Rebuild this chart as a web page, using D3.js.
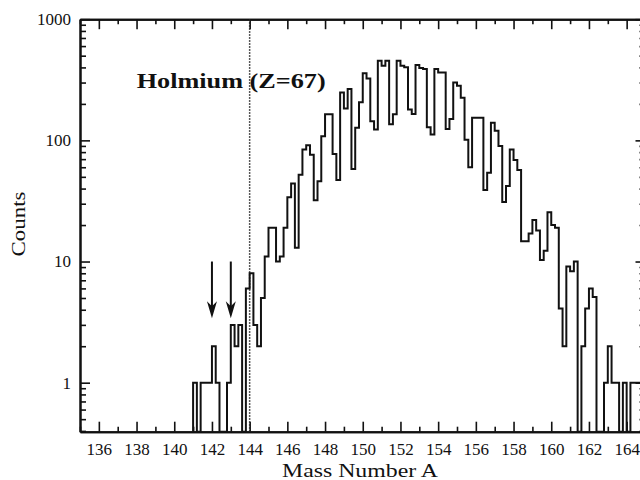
<!DOCTYPE html>
<html><head><meta charset="utf-8">
<script src="https://cdn.jsdelivr.net/npm/d3@7"></script>
<style>
body{margin:0;background:#fff}
svg{display:block}
svg text{font-family:'Liberation Serif',Times,serif !important;fill:#111}
</style>
</head><body>
<svg id="chart" width="640" height="480"></svg>
<script>
// ---- data ----
const binStart = 141.0;      // first bin lower edge (mass number)
const binWidth = 0.2;        // bin width (mass units)
// counts per bin (5 bins per mass unit, 141.0 ... 164.8)
const counts = [
  1, 0, 1, 1, 1,            // 141
  2, 1, 0, 0, 1,            // 142
  3, 2, 3, 0, 6,            // 143
  8, 3, 2, 5, 11,           // 144
  19, 19, 10, 11, 19,       // 145
  34, 44, 13, 52, 84,       // 146
  91, 76, 32, 46, 108,      // 147
  164, 164, 77, 47, 248,    // 148
  183, 265, 58, 127, 206,   // 149
  358, 324, 144, 123, 455,  // 150
  413, 455, 136, 164, 455,  // 151
  413, 401, 180, 165, 419,  // 152
  395, 388, 128, 112, 388,  // 153
  364, 364, 124, 150, 301,  // 154
  282, 225, 101, 60, 154,   // 155
  154, 154, 39, 54, 140,    // 156
  120, 90, 31, 42, 84,      // 157
  69, 57, 14.7, 14.7, 17,   // 158
  22, 18, 10.3, 12.3, 25.5, // 159
  20, 19, 4.1, 2, 9.1,      // 160
  8.3, 10, 0, 2, 4.1,       // 161
  6, 5.1, 0, 0, 1,          // 162
  2, 1, 1, 0, 1,            // 163
  0, 1, 1, 1, 1             // 164
];
const xDomain = [135, 165];
const yDomain = [0.394, 1000];
const xMajorTicks = [136,138,140,142,144,146,148,150,152,154,156,158,160,162,164];
const xMinorTicks = [135,137,139,141,143,145,147,149,151,153,155,157,159,161,163,165];
const yMajorTicks = [1, 10, 100, 1000];
const yMinorTicks = [0.4,0.5,0.6,0.7,0.8,0.9,2,3,4,5,6,7,8,9,20,30,40,50,60,70,80,90,200,300,400,500,600,700,800,900];
const markerMasses = [142, 143];     // arrows
const arrowFrom = 10, arrowTo = 3.4; // arrow extent in counts
const boundaryMass = 144;            // dotted line
const titleText = "Holmium (Z=67)";
const xLabel = "Mass Number A";
const yLabel = "Counts";

// ---- layout ----
const FONT = "'Liberation Serif', Times, serif";
const L = 80, R = 645.5, T = 19.2, B = 431.7;
const svg = d3.select("#chart");
const x = d3.scaleLinear().domain(xDomain).range([L, R]);
const y = d3.scaleLog().domain(yDomain).range([B, T]);

svg.append("defs").append("clipPath").attr("id","clip")
  .append("rect").attr("x",L).attr("y",T).attr("width",R-L).attr("height",B-T);

function styleAxis(g){
  g.attr("font-family", FONT);
  g.selectAll("path.domain").attr("stroke","#111").attr("stroke-width",2);
  g.selectAll(".tick line").attr("stroke","#111").attr("stroke-width",1.6);
  g.selectAll("text").attr("font-size",17).attr("fill","#111")
    .style("font-family", FONT);
}

// bottom axis
svg.append("g").attr("transform",`translate(0,${B})`)
  .call(d3.axisBottom(x).tickValues(xMinorTicks).tickSize(-5).tickSizeOuter(0).tickFormat(""))
  .call(styleAxis);
svg.append("g").attr("transform",`translate(0,${B})`)
  .call(d3.axisBottom(x).tickValues(xMajorTicks).tickSize(-10).tickSizeOuter(0).tickPadding(11).tickFormat(d3.format("d")))
  .call(styleAxis);
// top axis
svg.append("g").attr("transform",`translate(0,${T})`)
  .call(d3.axisTop(x).tickValues(xMinorTicks).tickSize(-5).tickSizeOuter(0).tickFormat(""))
  .call(styleAxis);
svg.append("g").attr("transform",`translate(0,${T})`)
  .call(d3.axisTop(x).tickValues(xMajorTicks).tickSize(-10).tickSizeOuter(0).tickFormat(""))
  .call(styleAxis);
// left axis
svg.append("g").attr("transform",`translate(${L},0)`)
  .call(d3.axisLeft(y).tickValues(yMinorTicks).tickSize(-6).tickSizeOuter(0).tickFormat(""))
  .call(styleAxis);
svg.append("g").attr("transform",`translate(${L},0)`)
  .call(d3.axisLeft(y).tickValues(yMajorTicks).tickSize(-10).tickSizeOuter(0).tickPadding(9).tickFormat(d3.format("d")))
  .call(styleAxis);
// right axis
svg.append("g").attr("transform",`translate(${R},0)`)
  .call(d3.axisRight(y).tickValues(yMinorTicks).tickSize(-6).tickSizeOuter(0).tickFormat(""))
  .call(styleAxis);
svg.append("g").attr("transform",`translate(${R},0)`)
  .call(d3.axisRight(y).tickValues(yMajorTicks).tickSize(-10).tickSizeOuter(0).tickFormat(""))
  .call(styleAxis);

// dotted boundary line
svg.append("line")
  .attr("x1",x(boundaryMass)).attr("x2",x(boundaryMass))
  .attr("y1",T).attr("y2",B)
  .attr("stroke","#222").attr("stroke-width",1.5).attr("stroke-dasharray","1.5,1.5");

// histogram
const pts = [[binStart, 0]];
counts.forEach((c,i)=>pts.push([binStart + i*binWidth, c]));
pts.push([binStart + counts.length*binWidth, counts[counts.length-1]]);
const line = d3.line()
  .x(d=>x(d[0]))
  .y(d=>d[1] > 0 ? y(d[1]) : B)
  .curve(d3.curveStepAfter);
svg.append("path").attr("clip-path","url(#clip)")
  .attr("d", line(pts))
  .attr("fill","none").attr("stroke","#111").attr("stroke-width",2)
  .attr("stroke-linejoin","miter");

// arrows
const arr = svg.append("g");
markerMasses.forEach(m=>{
  const ax = x(m), y0 = y(arrowFrom), y1 = y(arrowTo);
  arr.append("line").attr("x1",ax).attr("x2",ax).attr("y1",y0).attr("y2",y1-8)
    .attr("stroke","#111").attr("stroke-width",2);
  arr.append("path")
    .attr("d",`M${ax-5},${y1-17} L${ax},${y1-12} L${ax+5},${y1-17} L${ax},${y1} Z`)
    .attr("fill","#111");
});

// title
svg.append("text").attr("x",136.7).attr("y",88.3)
  .style("font-family", FONT)
  .attr("font-size",21).attr("font-weight","bold")
  .attr("textLength",189).attr("lengthAdjust","spacingAndGlyphs")
  .text(titleText);

// axis labels
svg.append("text").attr("x",360).attr("y",477).attr("text-anchor","middle")
  .style("font-family", FONT)
  .attr("font-size",19).attr("textLength",156).attr("lengthAdjust","spacingAndGlyphs")
  .text(xLabel);
svg.append("text").attr("transform","translate(25,224) rotate(-90)").attr("text-anchor","middle")
  .style("font-family", FONT)
  .attr("font-size",19).attr("textLength",65).attr("lengthAdjust","spacingAndGlyphs")
  .text(yLabel);
</script>
</body></html>
